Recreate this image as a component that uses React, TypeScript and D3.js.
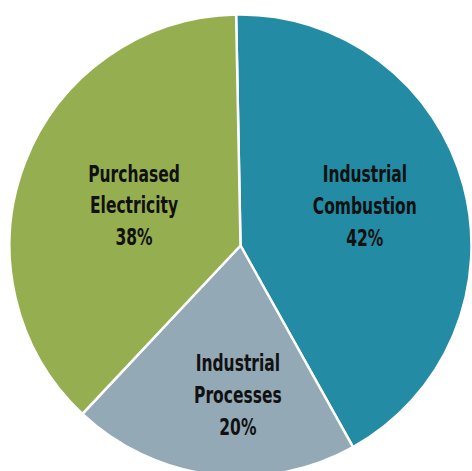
import React from "react";
import * as d3 from "d3";

const categories = ["Industrial Combustion", "Industrial Processes", "Purchased Electricity"];
const labelLines = [["Industrial", "Combustion"], ["Industrial", "Processes"], ["Purchased", "Electricity"]];
const values = [42.2, 20.1, 37.7];
const pctLabels = ["42%", "20%", "38%"];
const colors = ["#238BA3", "#93A9B5", "#94AE50"];
const labelRadiusFactor = [0.565, 0.646, 0.493];
const labelAngleNudgeDeg = [-2.6, -6, -0.3];

export default function App() {
  const W = 472, H = 471;
  const cx = 240.5, cy = 245.5, r = 231;
  const pie = d3.pie<number>().sort(null).value((d) => d)
    .startAngle(-0.019).endAngle(2 * Math.PI - 0.019);
  const arcs = pie(values);
  const arc = d3.arc<d3.PieArcDatum<number>>().innerRadius(0).outerRadius(r);
  const lh = 31.7;
  return (
    <svg width={W} height={H} style={{ position: "absolute", left: 0, top: 0 }}>
      <g transform={`translate(${cx},${cy})`}>
        {arcs.map((a, i) => (
          <path key={categories[i]} d={arc(a) || ""} fill={colors[i]} stroke="#fff" strokeWidth={2.5} />
        ))}
        {arcs.map((a, i) => {
          const mid = (a.startAngle + a.endAngle) / 2 + (labelAngleNudgeDeg[i] * Math.PI) / 180;
          const lr = r * labelRadiusFactor[i];
          const x = Math.sin(mid) * lr;
          const y = -Math.cos(mid) * lr;
          const lines = [...labelLines[i], pctLabels[i]];
          return (
            <g key={i} transform={`translate(${x},${y}) scale(0.75,1)`}>
              <text textAnchor="middle"
                fontFamily="'DejaVu Sans Condensed', 'DejaVu Sans', sans-serif"
                fontWeight="bold" fontSize={23} fill="#111">
                {lines.map((l, j) => (
                  <tspan key={j} x={0} y={(j - 1) * lh + 8.3}>{l}</tspan>
                ))}
              </text>
            </g>
          );
        })}
      </g>
    </svg>
  );
}
